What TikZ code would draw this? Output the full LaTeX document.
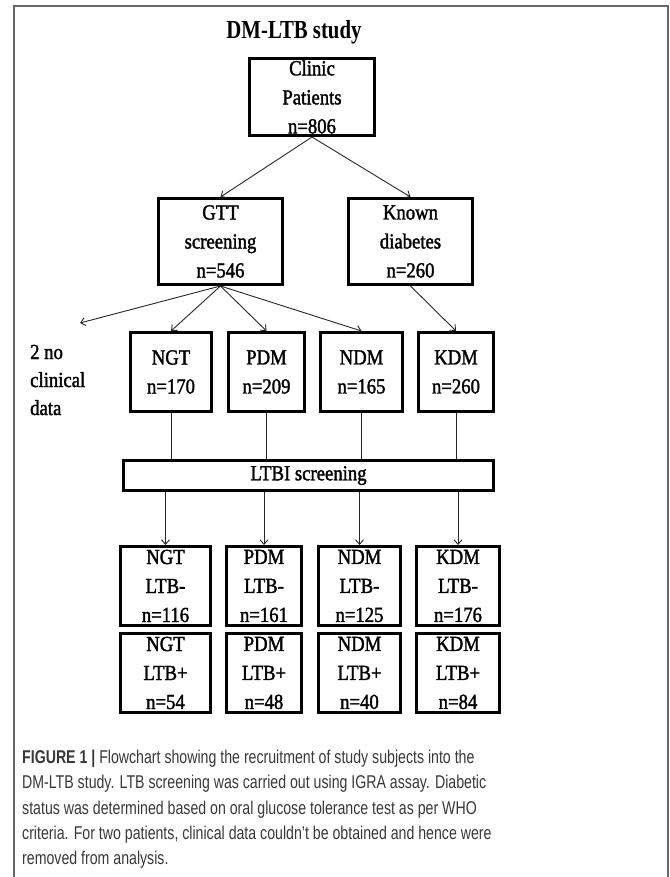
\documentclass[tikz,border=0pt]{standalone}
\usepackage{fontspec}
\setmainfont{Liberation Serif}
\newfontfamily\boxfont[FakeStretch=0.87,FakeBold=1.6]{Liberation Serif}
\newfontfamily\titlefont[FakeStretch=0.8]{Liberation Serif}
\newfontfamily\capfont[FakeStretch=0.765]{Liberation Sans}
\usepackage{tikz}
\usetikzlibrary{arrows.meta}
\tikzset{>={Straight Barb[width=2.8mm,length=1.6mm]}}
\tikzset{
  flowbox/.style={shape=rectangle,draw=black,line width=3pt,inner sep=0pt,align=center,font={\boxfont\fontsize{21.5}{29}\selectfont}},
  link/.style={draw=black!85,line width=0.9pt}
}

\begin{document}
\begin{tikzpicture}

\useasboundingbox (0pt,0pt) rectangle (669pt,-877pt);

% outer frame
\draw [draw=black!60,line width=1.4pt] (14pt,-877pt) -- (14pt,-6pt) -- (668pt,-6pt) -- (668pt,-877pt);

\path (294pt,-39pt) node (title) [anchor=base,inner sep=0pt,font={\titlefont\bfseries\fontsize{26}{30}\selectfont}]{DM-LTB study};

\path (312pt,-97pt) node (clinic) [flowbox,minimum width=125pt,minimum height=77pt]{Clinic\\Patients\\n=806};

\path (220.5pt,-241.5pt) node (gtt) [flowbox,minimum width=124pt,minimum height=86pt]{GTT\\screening\\n=546};

\path (410.5pt,-241.5pt) node (known) [flowbox,minimum width=124pt,minimum height=86pt]{Known\\diabetes\\n=260};

\path (30pt,-380pt) node (nodatatext) [anchor=west,inner sep=0pt,align=left,font={\boxfont\fontsize{21.5}{28}\selectfont}]{2 no\\clinical\\data};
\coordinate (nodata) at (80pt,-323pt);

\path (171pt,-372pt) node (ngt) [flowbox,minimum width=81pt,minimum height=79pt]{NGT\\n=170};

\path (266.5pt,-372pt) node (pdm) [flowbox,minimum width=76pt,minimum height=79pt]{PDM\\n=209};

\path (361.5pt,-372pt) node (ndm) [flowbox,minimum width=82pt,minimum height=79pt]{NDM\\n=165};

\path (456pt,-372pt) node (kdm) [flowbox,minimum width=75pt,minimum height=79pt]{KDM\\n=260};

\path (308.5pt,-475.5pt) node (ltbi) [flowbox,minimum width=370pt,minimum height=30pt]{LTBI screening};

\path (165.5pt,-586pt) node (ngtneg) [flowbox,minimum width=90pt,minimum height=79pt]{NGT\\LTB-\\n=116};

\path (264pt,-586pt) node (pdmneg) [flowbox,minimum width=75pt,minimum height=79pt]{PDM\\LTB-\\n=161};

\path (359.5pt,-586pt) node (ndmneg) [flowbox,minimum width=82pt,minimum height=79pt]{NDM\\LTB-\\n=125};

\path (458pt,-586pt) node (kdmneg) [flowbox,minimum width=83pt,minimum height=79pt]{KDM\\LTB-\\n=176};

\path (165.5pt,-673pt) node (ngtpos) [flowbox,minimum width=90pt,minimum height=79pt]{NGT\\LTB+\\n=54};

\path (264pt,-673pt) node (pdmpos) [flowbox,minimum width=75pt,minimum height=79pt]{PDM\\LTB+\\n=48};

\path (359.5pt,-673pt) node (ndmpos) [flowbox,minimum width=82pt,minimum height=79pt]{NDM\\LTB+\\n=40};

\path (458pt,-673pt) node (kdmpos) [flowbox,minimum width=83pt,minimum height=79pt]{KDM\\LTB+\\n=84};

% connectors
\draw [link,->] (clinic.south) -- (gtt.north);
\draw [link,->] (clinic.south) -- (known.north);

\draw [link,->] (gtt.south) -- (nodata);
\draw [link,->] (gtt.south) -- (ngt.north);
\draw [link,->] (gtt.south) -- (pdm.north);
\draw [link,->] (gtt.south) -- (ndm.north);
\draw [link,->] (known.south) -- (kdm.north);

\draw [link] (ngt.south) -- (ngt.south |- ltbi.north);
\draw [link] (pdm.south) -- (pdm.south |- ltbi.north);
\draw [link] (ndm.south) -- (ndm.south |- ltbi.north);
\draw [link] (kdm.south) -- (kdm.south |- ltbi.north);

\draw [link,->] (ltbi.south -| ngtneg.north) -- (ngtneg.north);
\draw [link,->] (ltbi.south -| pdmneg.north) -- (pdmneg.north);
\draw [link,->] (ltbi.south -| ndmneg.north) -- (ndmneg.north);
\draw [link,->] (ltbi.south -| kdmneg.north) -- (kdmneg.north);

% caption
\path (22pt,-750pt) node (caption) [anchor=north west,inner sep=0pt,align=left,text=black!78,font={\capfont\fontsize{18.5}{25.3}\selectfont}]{{\bfseries FIGURE 1 |} Flowchart showing the recruitment of study subjects into the\\DM-LTB study. LTB screening was carried out using IGRA assay. Diabetic\\status was determined based on oral glucose tolerance test as per WHO\\criteria. For two patients, clinical data couldn’t be obtained and hence were\\removed from analysis.};

\end{tikzpicture}
\end{document}
